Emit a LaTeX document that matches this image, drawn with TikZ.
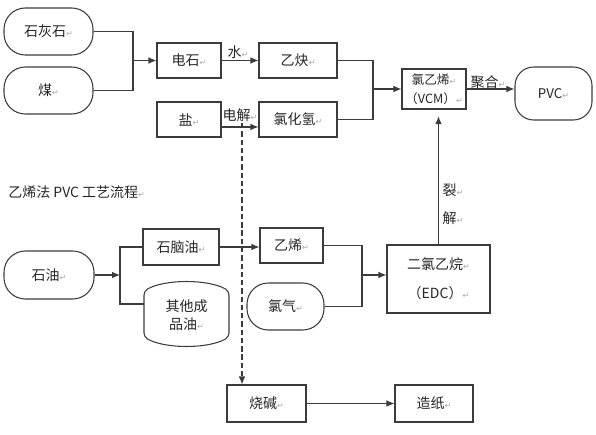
\documentclass[tikz,border=0pt]{standalone}
\usepackage{fontspec}
\setmainfont{Noto Sans CJK SC}
\newfontfamily\symfont{DejaVu Sans}
\usetikzlibrary{arrows.meta}
\definecolor{ln}{HTML}{3C3C3C}
\definecolor{pm}{HTML}{A8A8A8}
\definecolor{tx}{HTML}{262626}
\newcommand{\pmk}{{\symfont\fontsize{6}{6}\selectfont\color{pm}↵}}
\begin{document}
\begin{tikzpicture}[x=0.75pt,y=-0.75pt,
  every node/.style={font=\fontsize{10.5}{14}\selectfont, text=tx},
  wh/.style 2 args={minimum width=#1*0.75pt, minimum height=#2*0.75pt, inner sep=0pt},
  box/.style={draw=ln, line width=0.8pt},
  rbox/.style={draw=ln, line width=0.8pt, rounded corners=16pt},
  conn/.style={draw=ln, line width=0.8pt},
  arr/.style={conn, -{Latex[length=6pt,width=5pt]}},
  lbl/.style={inner sep=0pt},
]
\useasboundingbox (0,0) rectangle (596,435);

% nodes
\node[rbox, wh={89}{47}] (shihui) at (48.5,31.5) {石灰石\pmk};
\node[rbox, wh={89}{47}] (mei) at (48.5,90.5) {煤\pmk};
\node[box, wh={64}{35}] (dianshi) at (189,60.5) {电石\pmk};
\node[box, wh={78}{35}] (yique) at (298,60.5) {乙炔\pmk};
\node[box, wh={64}{35}] (yan) at (189,119.5) {盐\pmk};
\node[box, wh={78}{35}] (hcl) at (298,119.5) {氯化氢\pmk};
\node[box, wh={64}{40}, align=center, font=\fontsize{9.5}{14}\selectfont] (vcm) at (434,89) {氯乙烯\pmk\\（VCM）\pmk};
\node[rbox, wh={77}{53}, rounded corners=14pt, font=\fontsize{10}{12}\selectfont] (pvc) at (553.5,93.5) {PVC\pmk};

\node[lbl, anchor=west] (title) at (8,192) {乙烯法 PVC 工艺流程\pmk};

\node[rbox, wh={90}{48}] (shiyou) at (49,275) {石油\pmk};
\node[box, wh={76}{36}] (naphtha) at (181,247) {石脑油\pmk};
\node[wh={85}{63}, align=center, font=\fontsize{10.5}{13.5}\selectfont] (qita) at (186.5,315) {其他成\\品油\pmk};
\draw[conn, rounded corners=3pt] (144,291) .. controls (165,279) and (208,279) .. (229,291)
  -- (229,337) .. controls (208,349) and (165,349) .. (144,337) -- cycle;
\node[box, wh={63}{35}] (yixi) at (291.5,245.5) {乙烯\pmk};
\node[rbox, wh={77}{47}] (lvqi) at (285.5,306.5) {氯气\pmk};
\node[box, wh={103}{68}, align=center, font=\fontsize{10.5}{22}\selectfont] (erlv) at (438.5,279) {二氯乙烷\pmk\\（EDC）\pmk};
\node[box, wh={79}{37}] (shaojian) at (266.5,403.5) {烧碱\pmk};
\node[box, wh={78}{37}] (zaozhi) at (434,403.5) {造纸\pmk};

% junctions
\coordinate (j1) at (133,60.5);
\coordinate (j2) at (373,89);
\coordinate (j3) at (120,304);
\coordinate (j4) at (362,275);
\coordinate (dtop) at (242,123);

% connectors
\draw[conn] (shihui.east) -| (j1) |- (mei.east);
\draw[arr] (j1) -- (dianshi.west);
\draw[arr] (dianshi.east) -- (yique.west);
\node[lbl] (shui) at (238,52) {水\pmk};
\draw[arr] ([yshift=-5.6pt]yan.east) -- ([yshift=-5.6pt]hcl.west);
\node[lbl] (dianjie) at (240,115) {电解\pmk};
\draw[conn] (yique.east) -| (j2) |- (hcl.east);
\draw[arr] (j2) -- (vcm.west);
\draw[arr] (vcm.east) -- (vcm.east -| pvc.west);
\node[lbl] (juhe) at (488,82) {聚合\pmk};

\draw[arr] (shiyou.east) -- (shiyou.east -| j3);
\draw[conn] (naphtha.west) -| (j3) -- (j3 -| qita.west);
\draw[arr] (naphtha.east) -- (naphtha.east -| yixi.west);
\draw[conn] (yixi.east) -| (j4) |- (lvqi.east);
\draw[arr] (j4) -- (j4 -| erlv.west);
\draw[arr, shorten >=5pt] (erlv.north) -- (erlv.north |- vcm.south);
\node[lbl] (lie) at (453,190) {裂\pmk};
\node[lbl] (jie) at (453,218) {解\pmk};

\draw[arr, dash pattern=on 4pt off 2.2pt] (dtop) -- (dtop |- shaojian.north);
\draw[arr] (shaojian.east) -- (zaozhi.west);
\end{tikzpicture}
\end{document}
